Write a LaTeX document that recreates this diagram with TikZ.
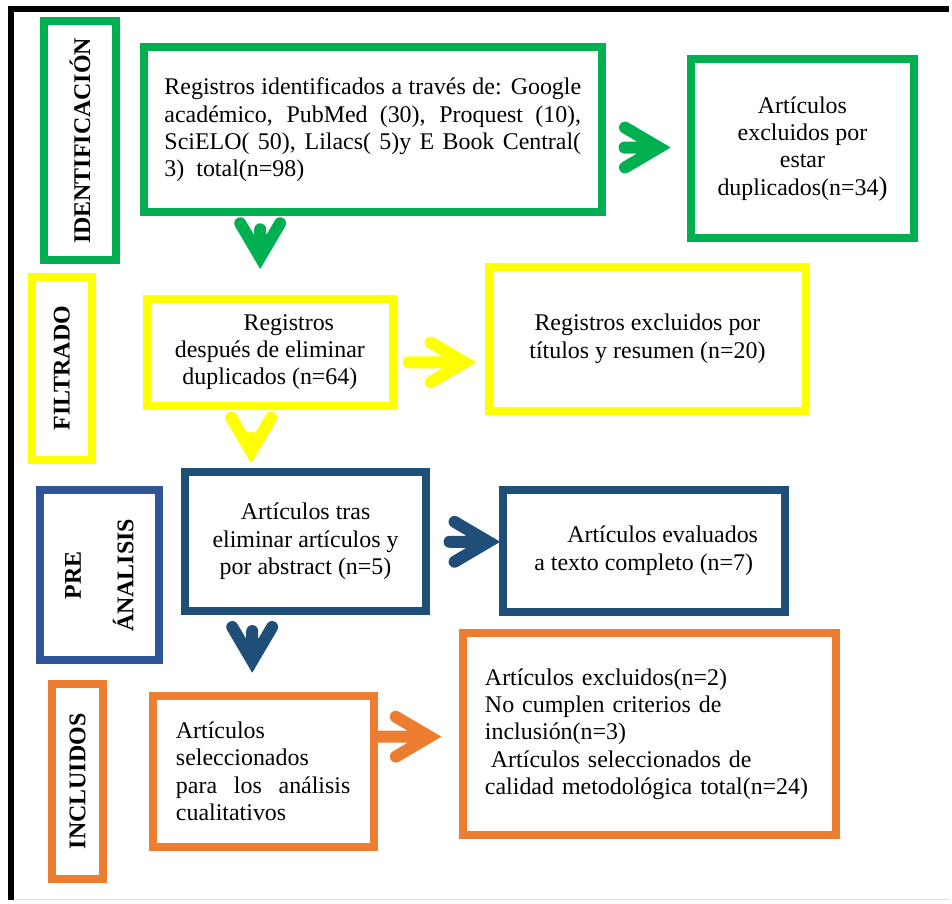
\documentclass[tikz,border=0pt]{standalone}
\usepackage{fontspec}
\setmainfont{Liberation Serif}
\usetikzlibrary{calc}
\definecolor{idgreen}{RGB}{0,176,80}
\definecolor{filtyellow}{RGB}{255,255,0}
\definecolor{prenavy}{RGB}{31,78,121}
\definecolor{prelabel}{RGB}{47,85,151}
\definecolor{incorange}{RGB}{237,125,49}

\begin{document}
\begin{tikzpicture}[
  x=1pt, y=-1pt,
  font=\fontsize{24}{27.5}\selectfont,
  box/.style={draw, line width=8pt, inner sep=0pt},
  stage/.style={box, rotate=90, font=\fontsize{24}{27.5}\selectfont\bfseries, align=center},
  arrd/.style={line width=12pt, line cap=round, line join=miter,
    to path={(\tikztostart) -- (\tikztotarget)
      ([xshift=-20pt,yshift=34pt]\tikztotarget) -- (\tikztotarget) -- ([xshift=20pt,yshift=34pt]\tikztotarget)}},
  arrr/.style={line width=12pt, line cap=round, line join=miter,
    to path={(\tikztostart) -- (\tikztotarget)
      ([xshift=-34pt,yshift=20pt]\tikztotarget) -- (\tikztotarget) -- ([xshift=-34pt,yshift=-20pt]\tikztotarget)}},
]
\fill[white] (0,0) rectangle (952,903);
\draw[black, line width=6pt] (11.5,903) -- (11.5,9.5) -- (952,9.5);
\draw[gray!25, line width=1pt] (15,902) -- (952,902);

% stage labels
\node[stage, draw=idgreen, minimum width=239.5pt, minimum height=72.5pt] (lid) at (80.25,141.25) {IDENTIFICACIÓN};
\node[stage, draw=filtyellow, minimum width=183.5pt, minimum height=60pt] (lfilt) at (62,369.25) {FILTRADO};
\node[stage, draw=prelabel, minimum width=170.5pt, minimum height=119.5pt] (lpre) at (99.75,577.25) {PRE\\[25pt]ÁNALISIS};
\node[stage, draw=incorange, minimum width=195.5pt, minimum height=50.5pt] (linc) at (77.75,783.75) {INCLUIDOS};

% boxes
\node[box, draw=idgreen, minimum width=459pt, minimum height=165.5pt, text width=418pt, align=justify] (ident) at (374,130.25) {Registros identificados a través de: Google\linebreak académico, PubMed (30), Proquest (10),\linebreak SciELO( 50), Lilacs( 5)y E Book Central(\linebreak 3)\ \ total(n=98)};
\node[box, draw=idgreen, minimum width=224pt, minimum height=179.5pt, align=center] (dup) at (805,149.25) {Artículos\\excluidos por\\estar\\duplicados(n=34{\fontsize{27}{27.5}\selectfont)}};
\node[box, draw=filtyellow, minimum width=246.5pt, minimum height=107.5pt, align=center] (filt) at (270.75,353.25) {\hspace*{38pt}Registros\\después de eliminar\\duplicados (n=64)};
\node[box, draw=filtyellow, minimum width=318pt, minimum height=144pt, align=center] (excl) at (649.5,340) {Registros excluidos por\\títulos y resumen (n=20)};
\node[box, draw=prenavy, minimum width=241pt, minimum height=139.5pt, align=center] (pre) at (306.5,543.25) {Artículos tras\\eliminar artículos y\\por abstract (n=5)};
\node[box, draw=prenavy, minimum width=282.5pt, minimum height=122pt, align=center] (eval) at (645.75,552.5) {\hspace*{38pt}Artículos evaluados\\a texto completo (n=7)};
\node[box, draw=incorange, minimum width=222pt, minimum height=151.5pt, text width=175pt, align=left] (sel) at (264,773.75) {Artículos\\seleccionados\\para\hfill los\hfill análisis\\cualitativos};
\node[box, draw=incorange, minimum width=375pt, minimum height=203pt, text width=330pt, align=left] (fin) at (651.5,736.5) {Artículos excluidos(n=2)\\No cumplen criterios de\\inclusión(n=3)\\\hspace*{6pt}Artículos seleccionados de\\calidad metodológica total(n=24)};

% arrow tips
\coordinate (tg1) at (261,258);
\coordinate (tg2) at (661,148);
\coordinate (ty1) at (466,363.5);
\coordinate (ty2) at (252,453);
\coordinate (tb1) at (490,543.5);
\coordinate (tb2) at (253,663);
\coordinate (to1) at (431,739);

\draw[arrd, idgreen] ($(ident.south -| tg1)+(0,13)$) to (tg1);
\draw[arrr, idgreen] ($(ident.east |- tg2)+(19,0)$) to (tg2);
\draw[arrr, filtyellow] ($(filt.east |- ty1)+(12,0)$) to (ty1);
\draw[arrd, filtyellow] ($(filt.south -| ty2)+(0,28)$) to (ty2);
\draw[arrr, prenavy] ($(pre.east |- tb1)+(20,0)$) to (tb1);
\draw[arrd, prenavy] ($(pre.south -| tb2)+(0,16)$) to (tb2);
\draw[arrr, incorange] (sel.east |- to1) to (to1);
\end{tikzpicture}
\end{document}
